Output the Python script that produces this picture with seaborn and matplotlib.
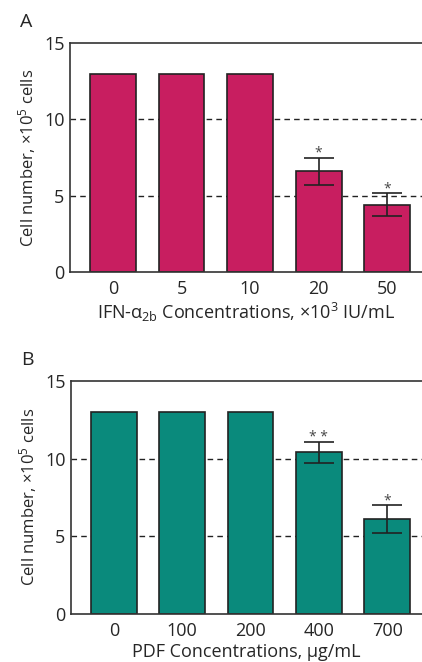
import numpy as np
import pandas as pd
import matplotlib.pyplot as plt
import seaborn as sns

# data
ifn_conc = ["0", "5", "10", "20", "50"]
ifn_cells = [13, 13, 13, 6.6, 4.4]
ifn_err = [0, 0, 0, 0.9, 0.75]
ifn_marks = ["", "", "", "*", "*"]

pdf_conc = ["0", "100", "200", "400", "700"]
pdf_cells = [13, 13, 13, 10.4, 6.1]
pdf_err = [0, 0, 0, 0.7, 0.9]
pdf_marks = ["", "", "", "* *", "*"]

sns.set_style("white")
plt.rcParams['font.family'] = ['Open Sans', 'DejaVu Sans']
plt.rcParams['mathtext.fontset'] = 'custom'
plt.rcParams['mathtext.rm'] = 'Open Sans'
plt.rcParams['mathtext.it'] = 'Open Sans'

fig = plt.figure(figsize=(4.22, 6.62), dpi=100)
ax_a = fig.add_axes([70 / 422, 390 / 662, 352 / 422, 229 / 662])
ax_b = fig.add_axes([71 / 422, 48.3 / 662, 351 / 422, 232.7 / 662])


def panel(ax, conc, cells, err, marks, color, xlabel, letter):
    df = pd.DataFrame({"conc": conc, "cells": cells})
    for y in (5, 10):
        ax.axhline(y, color="#222222", lw=1.0, ls=(0, (4, 3)), zorder=0)
    sns.barplot(data=df, x="conc", y="cells", color=color, width=0.67,
                edgecolor="#222222", linewidth=1.2, saturation=1, ax=ax, zorder=2)
    xs = np.arange(len(conc))
    e = np.array(err)
    has = e > 0
    ax.errorbar(xs[has], np.array(cells)[has], yerr=e[has], fmt="none",
                ecolor="#222222", elinewidth=1.2, capsize=11, capthick=1.2, zorder=3)
    for x, v, er, m in zip(xs, cells, err, marks):
        if m:
            ax.text(x, v + er - 0.2, m, ha="center", va="bottom",
                    fontsize=10, color="#444444", zorder=4)
    ax.set_ylim(0, 15)
    ax.set_xlim(-0.628, 4.51)
    ax.set_yticks([0, 5, 10, 15])
    ax.tick_params(axis="y", length=3, width=1, labelsize=13, pad=1, color="#333333")
    ax.tick_params(axis="x", length=0, labelsize=13, pad=6)
    ax.set_ylabel(r"Cell number, $\times$10$^{5}$ cells", fontsize=12, labelpad=4)
    ax.set_xlabel(xlabel, fontsize=13, labelpad=2)
    for s in ("left", "top", "bottom"):
        ax.spines[s].set_color("#333333")
        ax.spines[s].set_linewidth(1.2)
    ax.spines["right"].set_visible(False)
    fig.text(ax.get_position().x0 - 50 / 422, ax.get_position().y1 + 12 / 662, letter,
             fontsize=14, ha="left", va="bottom")


panel(ax_a, ifn_conc, ifn_cells, ifn_err, ifn_marks, "#C81E60",
      r"IFN-$\alpha_{\rm 2b}$ Concentrations, $\times$10$^{3}$ IU/mL", "A")
panel(ax_b, pdf_conc, pdf_cells, pdf_err, pdf_marks, "#0A8A7C",
      "PDF Concentrations, μg/mL", "B")

fig.savefig("out.png", dpi=100)
